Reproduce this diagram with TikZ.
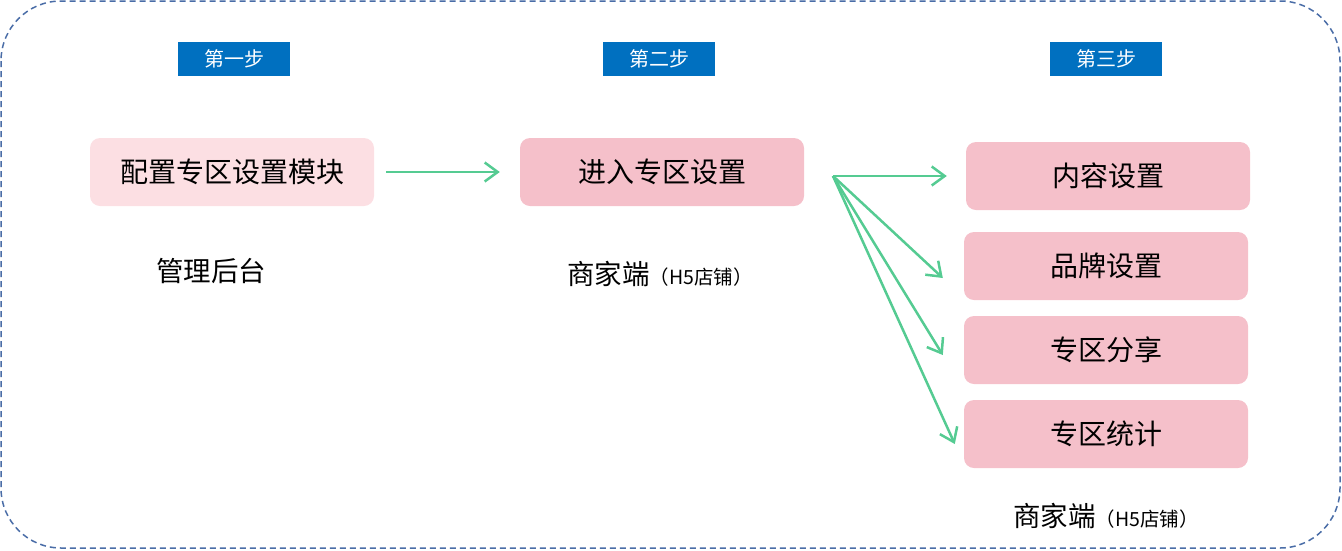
\documentclass[tikz,border=0pt]{standalone}
\usepackage{fontspec}
\setmainfont{Noto Sans CJK SC}
\usepackage{tikz}
\usetikzlibrary{arrows.meta}

\definecolor{stepblue}{HTML}{0070C0}
\definecolor{lightpink}{HTML}{FCDFE3}
\definecolor{boxpink}{HTML}{F5C0CA}
\definecolor{arrowgreen}{HTML}{55CB92}
\definecolor{borderblue}{HTML}{4A6DA7}

\tikzset{
  steplabel/.style={fill=stepblue, text=white, minimum width=112pt, minimum height=34pt, inner sep=0pt, font=\fontsize{20}{20}\selectfont},
  pinkbox/.style={fill=boxpink, rounded corners=10pt, minimum width=284pt, minimum height=68pt, inner sep=0pt, font=\fontsize{28}{28}\selectfont},
  sidetext/.style={font=\fontsize{27.5}{27.5}\selectfont},
  flow/.style={arrowgreen, line width=2.5pt, -{Straight Barb[length=13pt,width=19pt,line width=2.5pt]}}
}

\begin{document}
\begin{tikzpicture}[x=1pt,y=-1pt]
\useasboundingbox (0,0) rectangle (1342,550);
   % Draw frame
\draw[borderblue, line width=1.5pt, dash pattern=on 6pt off 4pt, rounded corners=60pt] (1,1) rectangle (1340,548);

\node[steplabel] (s1) at (234,59) {第一步};
\node[steplabel] (s2) at (659,59) {第二步};
\node[steplabel] (s3) at (1106,59) {第三步};

\node[pinkbox, fill=lightpink] (config) at (232,172) {配置专区设置模块};
\node[pinkbox] (enter) at (662,172) {进入专区设置};
\node[pinkbox] (content) at (1108,176) {内容设置};
\node[pinkbox] (brand) at (1106,266) {品牌设置};
\node[pinkbox] (share) at (1106,350) {专区分享};
\node[pinkbox] (stats) at (1106,434) {专区统计};

\node[sidetext] (admin) at (211,271) {管理后台};
\node[sidetext] (shop1) at (660,274) {商家端{\fontsize{19.5}{19.5}\selectfont（H5店铺）}};
\node[sidetext] (shop2) at (1106,516) {商家端{\fontsize{19.5}{19.5}\selectfont（H5店铺）}};

\coordinate (fork) at (833,176);
\draw[flow] ([xshift=12pt]config.east) -- ([xshift=-20pt]enter.west);
\draw[flow] (fork) -- ([xshift=-19pt]content.west);
\draw[flow] (fork) -- ([xshift=-21pt,yshift=-12pt]brand.west);
\draw[flow] (fork) -- ([xshift=-21pt,yshift=-5pt]share.west);
\draw[flow] (fork) -- ([xshift=-9pt,yshift=-10pt]stats.west);
\end{tikzpicture}
\end{document}
